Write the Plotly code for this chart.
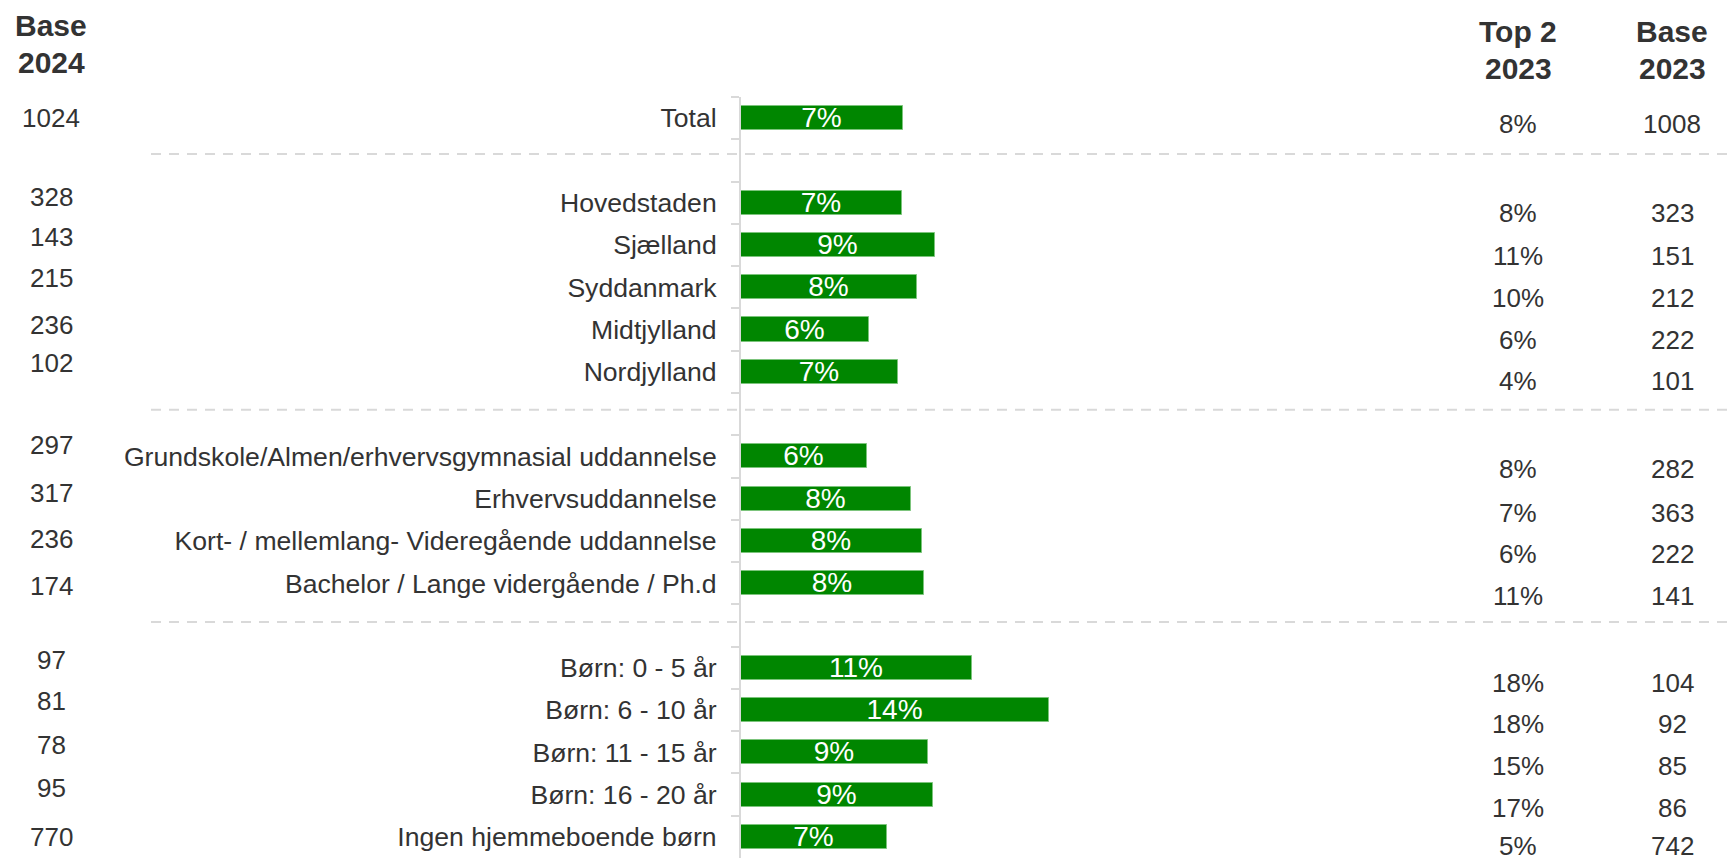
import plotly.graph_objects as go

# ---- data -------------------------------------------------------------
categories = [
    "Total",
    "Hovedstaden", "Sjælland", "Syddanmark", "Midtjylland", "Nordjylland",
    "Grundskole/Almen/erhvervsgymnasial uddannelse", "Erhvervsuddannelse",
    "Kort- / mellemlang- Videregående uddannelse",
    "Bachelor / Lange vidergående / Ph.d",
    "Børn: 0 - 5 år", "Børn: 6 - 10 år", "Børn: 11 - 15 år",
    "Børn: 16 - 20 år", "Ingen hjemmeboende børn",
]
group_sizes = [1, 5, 4, 5]

top2_2024 = [7.43, 7.40, 8.92, 8.11, 5.89, 7.22, 5.79, 7.82, 8.32, 8.41,
             10.64, 14.18, 8.62, 8.83, 6.71]
base_2024 = [1024, 328, 143, 215, 236, 102, 297, 317, 236, 174, 97, 81, 78, 95, 770]
top2_2023 = [8, 8, 11, 10, 6, 4, 8, 7, 6, 11, 18, 18, 15, 17, 5]
base_2023 = [1008, 323, 151, 212, 222, 101, 282, 363, 222, 141, 104, 92, 85, 86, 742]

# ---- layout constants --------------------------------------------------
WIDTH, HEIGHT = 1727, 861
M_L, M_R, M_T, M_B = 741, 287, 97, 3
PLOT_W = WIDTH - M_L - M_R
PLOT_H = HEIGHT - M_T - M_B
X_MAX = 32.14

FONT = "Liberation Sans, Arial, sans-serif"
TEXT = "#333333"
GREY = "#d9d9d9"
GREEN = "#008600"

# vertical nudges (px, positive = down) for the side columns
left_nudge = [0, -6, -8, -9, -5, -9, -11, -6, -2, 3, -8, -9, -7, -7, 0]
right_nudge = [6, 10, 11, 11, 10, 9, 13, 14, 13, 13, 15, 14, 14, 13, 9]
DIVIDER_Y = [0.85, 6.9, 11.92]


def px_x(px):
    return (px - M_L) / PLOT_W


def px_y(py):
    return 1 - (py - M_T) / PLOT_H


# rows with blank spacer slots between groups
rows, vals, row_pos = [], [], []
k = 0
for g, size in enumerate(group_sizes):
    if g > 0:
        rows.append(" " * g)
        vals.append(None)
    for _ in range(size):
        row_pos.append(len(rows))
        rows.append(categories[k])
        vals.append(top2_2024[k])
        k += 1

fig = go.Figure(
    go.Bar(
        x=vals,
        y=rows,
        orientation="h",
        width=0.57,
        marker=dict(color=GREEN, line=dict(color="#7cc47c", width=1)),
        texttemplate="%{x:.0f}%",
        textposition="inside",
        insidetextanchor="middle",
        constraintext="none",
        textfont=dict(family=FONT, size=28, color="white"),
        hoverinfo="skip",
    )
)

annotations = []


def add_text(x_px, y, text, yref="y", yshift=0, size=26, bold=False):
    annotations.append(dict(
        x=px_x(x_px), xref="paper", y=y, yref=yref, yshift=yshift,
        text=f"<b>{text}</b>" if bold else text,
        showarrow=False, xanchor="center", yanchor="middle",
        font=dict(family=FONT, size=size, color=TEXT),
    ))


# column headers
add_text(51, px_y(25), "Base", yref="paper", size=30, bold=True)
add_text(51, px_y(63), "2024", yref="paper", size=30, bold=True)
add_text(1518, px_y(31), "Top 2", yref="paper", size=30, bold=True)
add_text(1518, px_y(69), "2023", yref="paper", size=30, bold=True)
add_text(1672, px_y(31), "Base", yref="paper", size=30, bold=True)
add_text(1672, px_y(69), "2023", yref="paper", size=30, bold=True)

for i, pos in enumerate(row_pos):
    add_text(51, pos, str(base_2024[i]), yshift=-left_nudge[i])
    add_text(1518, pos, f"{top2_2023[i]}%", yshift=-right_nudge[i])
    add_text(1672, pos, str(base_2023[i]), yshift=-right_nudge[i])

shapes = [
    dict(type="line", xref="paper", yref="y",
         x0=px_x(151), x1=px_x(WIDTH), y0=yv, y1=yv,
         line=dict(color=GREY, width=2, dash="10px,8px"))
    for yv in DIVIDER_Y
]

fig.update_layout(
    width=WIDTH, height=HEIGHT,
    margin=dict(l=M_L, r=M_R, t=M_T, b=M_B, pad=0),
    plot_bgcolor="white", paper_bgcolor="white",
    showlegend=False,
    bargap=0,
    annotations=annotations,
    shapes=shapes,
    font=dict(family=FONT, color=TEXT),
    xaxis=dict(range=[0, X_MAX], visible=False, fixedrange=True),
    yaxis=dict(
        type="category",
        categoryorder="array", categoryarray=rows,
        range=[len(rows) - 0.5, -0.5],
        showline=True, linecolor=GREY, linewidth=2,
        ticks="outside", tickson="boundaries", ticklen=8,
        tickcolor=GREY, tickwidth=1.5,
        ticklabelstandoff=17,
        tickfont=dict(family=FONT, size=26.6, color=TEXT),
        showgrid=False, zeroline=False, fixedrange=True,
    ),
)

fig.write_html("out.html")
